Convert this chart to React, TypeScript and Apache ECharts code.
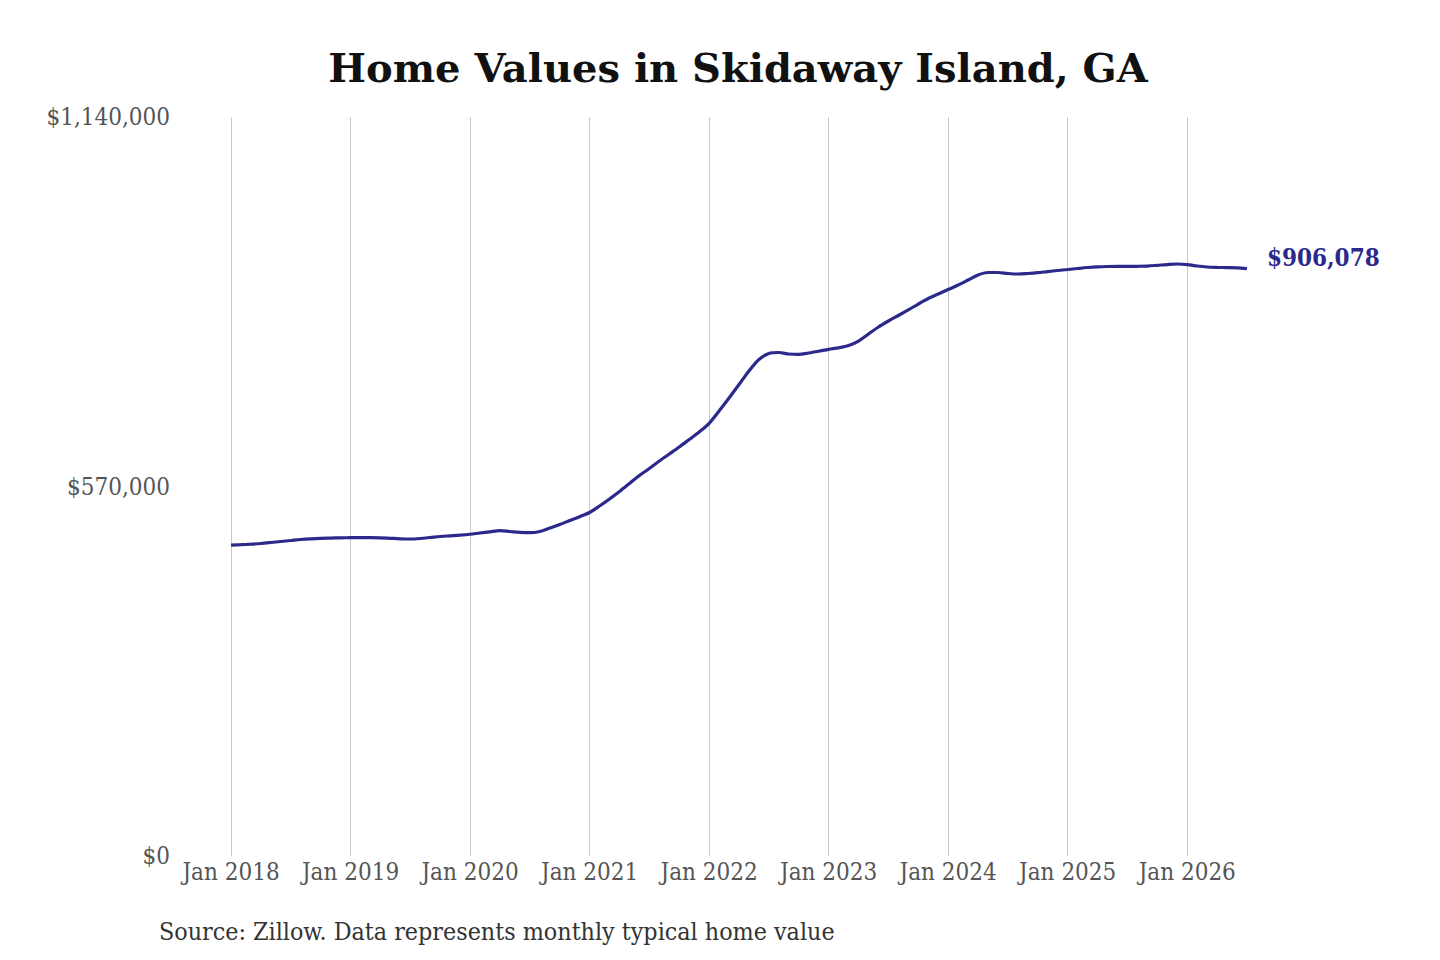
import React, { useEffect, useRef } from "react";
import * as echarts from "echarts";

const months: string[] = [];
for (let y = 2018; y <= 2026; y++) {
  for (let m = 1; m <= 12; m++) {
    if (y === 2026 && m > 7) break;
    months.push(`${y}-${String(m).padStart(2, "0")}`);
  }
}

const homeValues: number[] = [
  479700, 480200, 481000, 482100, 483600, 485200, 486700, 488200, 489300, 490100, 490500, 490900,
  491000, 491000, 491000, 490900, 490100, 489300, 489000, 489800, 491300, 492900, 493900, 494900,
  496300, 498300, 500100, 501800, 500600, 499300, 498700, 500600, 506000, 511400, 517500, 523400,
  529900, 539900, 550700, 562300, 574600, 587000, 597800, 609300, 620100, 630900, 642500, 654100,
  667500, 686500, 706500, 727300, 748200, 765900, 775200, 776700, 774400, 773900, 775900, 778600,
  781600, 783900, 787500, 794400, 805200, 816000, 825300, 833800, 842300, 851500, 860000, 866900,
  873900, 880800, 888500, 896300, 900100, 900100, 898600, 897800, 898600, 899800, 901600, 903200,
  904700, 906300, 907800, 908900, 909400, 909500, 909500, 909700, 910100, 911200, 912400, 913200,
  912300, 910100, 908600, 908000, 907700, 907400, 906078,
];

const yTicks: number[] = [0, 570000, 1140000];
const titleText = "Home Values in Skidaway Island, GA";
const sourceText = "Source: Zillow. Data represents monthly typical home value";

const monthNames = ["Jan", "Feb", "Mar", "Apr", "May", "Jun", "Jul", "Aug", "Sep", "Oct", "Nov", "Dec"];

const LINE_COLOR = "#2c298c";
const LABEL_FONT = "'DejaVu Serif Condensed', 'DejaVu Serif', serif";

function fmtMoney(v: number): string {
  return "$" + Math.round(v).toString().replace(/\B(?=(\d{3})+(?!\d))/g, ",");
}

export default function App() {
  const ref = useRef<HTMLDivElement>(null);
  useEffect(() => {
    document.body.style.margin = "0";
    if (!ref.current) return;
    const chart = echarts.init(ref.current, undefined, { renderer: "svg" });
    const isJan = (idx: number) => months[idx].endsWith("-01");
    chart.setOption({
      animation: false,
      backgroundColor: "#ffffff",
      grid: { left: 231, right: 193, top: 117, bottom: 104 },
      xAxis: {
        type: "category",
        data: months,
        boundaryGap: false,
        axisLine: { show: false },
        axisTick: { show: false },
        axisLabel: {
          interval: (idx: number) => isJan(idx),
          formatter: (v: string) => {
            const [y, m] = v.split("-");
            return `${monthNames[parseInt(m, 10) - 1]} ${y}`;
          },
          margin: 4,
          color: "#555555",
          fontFamily: LABEL_FONT,
          fontSize: 24,
        },
        splitLine: {
          show: true,
          interval: (idx: number) => isJan(idx),
          lineStyle: { color: "#c8c8c8", width: 1 },
        },
      },
      yAxis: {
        type: "value",
        min: yTicks[0],
        max: yTicks[yTicks.length - 1],
        interval: yTicks[1] - yTicks[0],
        axisLine: { show: false },
        axisTick: { show: false },
        splitLine: { show: false },
        axisLabel: {
          formatter: (v: number) => fmtMoney(v),
          margin: 61,
          color: "#555555",
          fontFamily: LABEL_FONT,
          fontSize: 24,
        },
      },
      series: [
        {
          type: "line",
          data: homeValues,
          smooth: 0.3,
          symbol: "none",
          lineStyle: { color: LINE_COLOR, width: 3.2 },
          endLabel: {
            show: true,
            formatter: () => fmtMoney(homeValues[homeValues.length - 1]),
            color: LINE_COLOR,
            fontWeight: "bold",
            fontFamily: LABEL_FONT,
            fontSize: 24,
            distance: 20,
            offset: [0, -11],
          },
        },
      ],
      graphic: [
        {
          type: "text",
          x: 738,
          y: 67,
          style: {
            text: titleText,
            fill: "#111111",
            font: "bold 40px 'DejaVu Serif', serif",
            textAlign: "center",
            textVerticalAlign: "middle",
          },
        },
        {
          type: "text",
          x: 159,
          y: 931,
          style: {
            text: sourceText,
            fill: "#333333",
            font: "24.8px 'DejaVu Serif Condensed', 'DejaVu Serif', serif",
            textAlign: "left",
            textVerticalAlign: "middle",
          },
        },
      ],
    });
    return () => chart.dispose();
  }, []);
  return <div ref={ref} style={{ width: 1440, height: 960 }} />;
}
